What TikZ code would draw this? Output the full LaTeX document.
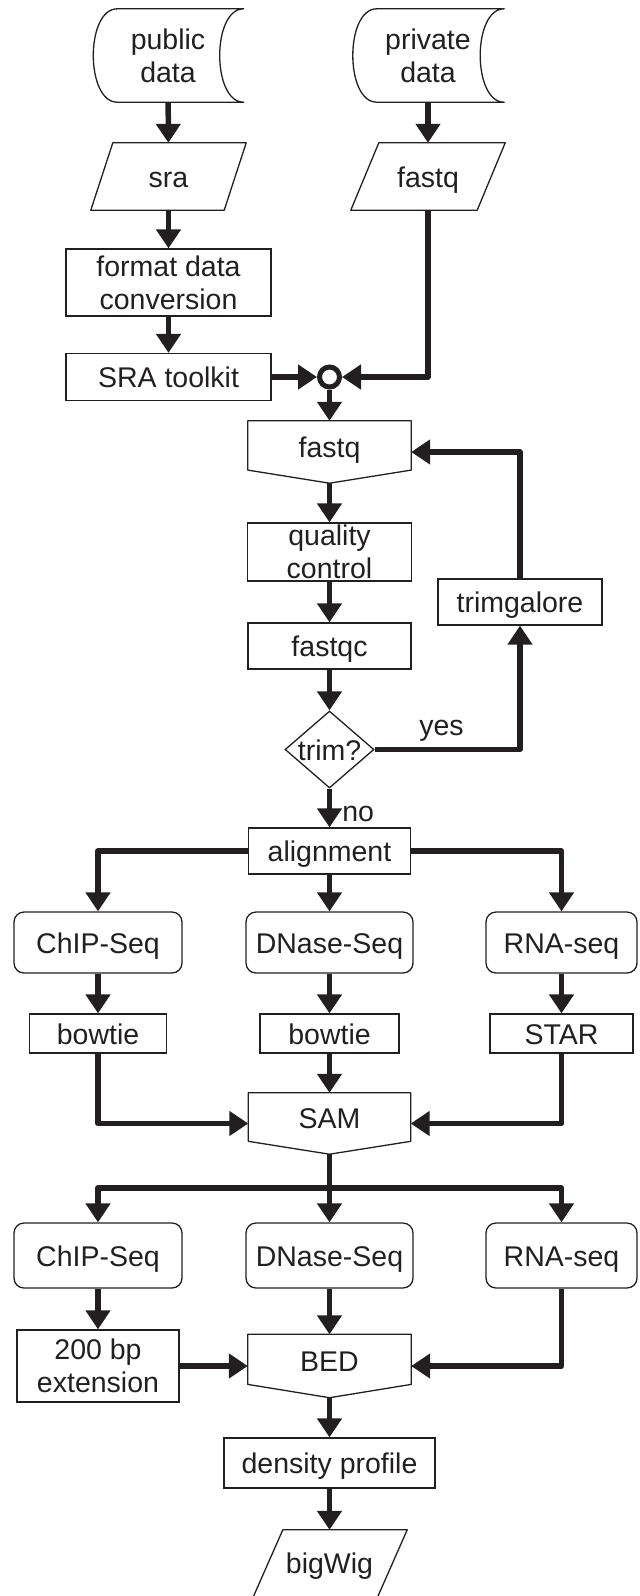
\documentclass[tikz,border=0pt]{standalone}
\usepackage{fontspec}
\setmainfont{Liberation Sans}
\usetikzlibrary{arrows.meta,shapes.geometric,calc}
\definecolor{ink}{RGB}{35,31,32}

\begin{document}
\begin{tikzpicture}[x=1pt, y=-1pt, color=ink,
		font=\fontsize{28.5}{33}\selectfont,
		every node/.style={inner sep=0pt, align=center},
		txt/.style={text height=21pt, text depth=0pt},
		offtxt/.style={text height=21pt, text depth=11pt},
		box/.style={rectangle, draw, line width=1.3pt},
		seqbox/.style={rectangle, draw, rounded corners=10pt, line width=1.3pt},
		shell/.style={rectangle},
		outline/.style={line width=1.3pt, line join=round},
		flow/.style={line width=5.5pt, line join=round, -{Triangle[length=19pt,width=24pt]}}]
		\useasboundingbox (0,0) rectangle (640,1596);

		% input data
		\path (168,55.5) node[shell, minimum width=151, minimum height=93] (pub) {public\\data}
		(428,55.5) node[shell, minimum width=152, minimum height=93] (priv) {private\\data}
		(168.5,176.5) node[shell, txt, minimum width=155, minimum height=67] (sra) {sra}
		(428,176.5) node[shell, txt, minimum width=154, minimum height=67] (fq1) {fastq}
		(168.5,282.5) node[box, minimum width=205, minimum height=67] (conv) {format data\\conversion}
		(168.5,377) node[box, txt, minimum width=205, minimum height=47] (tk) {SRA toolkit}
		(329.5,377) node[circle, draw, fill=white, line width=5pt, minimum size=20] (junc) {};

		% quality check
		\path (329.5,452) node[shell, offtxt, minimum width=163, minimum height=62] (fq2) {fastq}
		(329.5,552) node[box, minimum width=164, minimum height=58] (qc) {quality\\control}
		(329.5,646) node[box, txt, minimum width=163, minimum height=46] (fqc) {fastqc}
		(329.5,749.5) node[diamond, draw, line width=1.3pt, txt, aspect=1.156, minimum width=89, minimum height=77] (trim) {trim?}
		(520,602) node[box, txt, minimum width=164, minimum height=46] (trimg) {trimgalore};

		% alignment
		\path (329.5,851) node[box, txt, minimum width=162, minimum height=46] (align) {alignment}
		(98,942.5) node[seqbox, txt, minimum width=168, minimum height=61] (chip1) {ChIP-Seq}
		(329.5,942.5) node[seqbox, txt, minimum width=167, minimum height=61] (dnase1) {DNase-Seq}
		(561.5,942.5) node[seqbox, txt, minimum width=151, minimum height=61] (rna1) {RNA-seq}
		(98,1033.5) node[box, txt, minimum width=137, minimum height=39] (bow1) {bowtie}
		(329.5,1033.5) node[box, txt, minimum width=139, minimum height=39] (bow2) {bowtie}
		(561.5,1033.5) node[box, txt, minimum width=143, minimum height=39] (star) {STAR}
		(329.5,1123.5) node[shell, offtxt, minimum width=162, minimum height=61] (sam) {SAM};

		% peaks and tracks
		\path (98,1255.5) node[seqbox, txt, minimum width=168, minimum height=65] (chip2) {ChIP-Seq}
		(329.5,1255.5) node[seqbox, txt, minimum width=167, minimum height=65] (dnase2) {DNase-Seq}
		(561.5,1255.5) node[seqbox, txt, minimum width=151, minimum height=65] (rna2) {RNA-seq}
		(98,1366) node[box, minimum width=162, minimum height=72] (ext) {200 bp\\extension}
		(329.5,1366) node[shell, offtxt, minimum width=163, minimum height=63] (bed) {BED}
		(329.5,1463) node[box, txt, minimum width=211, minimum height=50] (dens) {density profile}
		(329.5,1565) node[shell, text height=21pt, text depth=4pt, minimum width=155, minimum height=70] (wig) {bigWig};
		\coordinate (fork) at (329.5,1188);

		% outlines
		\foreach \n in {pub, priv}
		\draw[outline] ([xshift=25]\n.north west) -- (\n.north east)
			.. controls +(-32,0) and +(-32,0) .. (\n.south east) -- ([xshift=25]\n.south west)
			.. controls +(-32,0) and +(-32,0) .. ([xshift=25]\n.north west);
		\foreach \n/\s in {sra/22, fq1/28, wig/31}
		\draw[outline] ([xshift=\s]\n.north west) -- (\n.north east) -- ([xshift=-\s]\n.south east) -- (\n.south west) -- cycle;
		\foreach \n in {fq2, sam, bed}
		\draw[outline] (\n.north west) -- (\n.north east) -- ($(\n.north east)!0.79!(\n.south east)$)
			-- (\n.south) -- ($(\n.north west)!0.79!(\n.south west)$) -- cycle;

		\draw[flow] (pub) -- (sra);
		\draw[flow] (sra) -- (conv);
		\draw[flow] (conv) -- (tk);
		\draw[flow] (tk) -- (junc);
		\draw[flow] (priv) -- (fq1);
		\draw[flow] (fq1) |- (junc);
		\draw[flow] (junc) -- (fq2);
		\draw[flow] (fq2) -- (qc);
		\draw[flow] (qc) -- (fqc);
		\draw[flow] (fqc) -- (trim);
		\draw[flow] (trim) -| node[pos=0.23, above=5pt] {yes} (trimg);
		\draw[flow] (trimg) |- (fq2);
		\draw[flow] (trim) -- node[pos=0.65, right=10pt] {no} (align);
		\draw[flow] (align) -| (chip1);
		\draw[flow] (align) -- (dnase1);
		\draw[flow] (align) -| (rna1);
		\draw[flow] (chip1) -- (bow1);
		\draw[flow] (dnase1) -- (bow2);
		\draw[flow] (rna1) -- (star);
		\draw[flow] (bow1) |- (sam);
		\draw[flow] (bow2) -- (sam);
		\draw[flow] (star) |- (sam);
		\draw[flow] (sam) -- (dnase2);
		\draw[flow] (fork) -| (chip2);
		\draw[flow] (fork) -| (rna2);
		\draw[flow] (chip2) -- (ext);
		\draw[flow] (dnase2) -- (bed);
		\draw[flow] (rna2) |- (bed);
		\draw[flow] (ext) -- (bed);
		\draw[flow] (bed) -- (dens);
		\draw[flow] (dens) -- (wig);
	\end{tikzpicture}
\end{document}
